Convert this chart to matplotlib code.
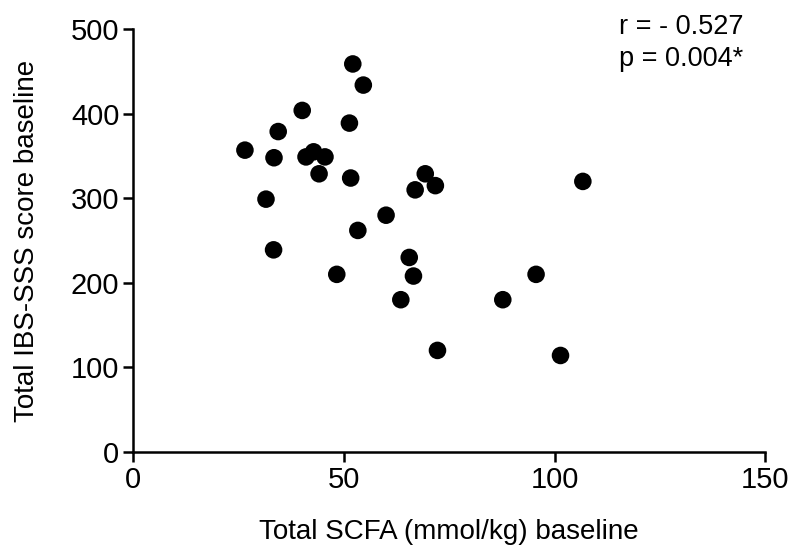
import matplotlib.pyplot as plt

plt.rcParams['font.family'] = ['Liberation Sans', 'DejaVu Sans']

scfa = [26.5, 34.4, 33.4, 31.5, 33.3, 40.1, 41.0, 42.8, 45.5, 44.1,
        48.3, 52.1, 54.6, 51.3, 51.6, 53.3, 60.0, 63.5, 65.5, 66.5,
        66.9, 69.3, 71.7, 72.2, 87.7, 95.6, 101.4, 106.7]
ibs = [357, 379, 348, 299, 239, 404, 349, 355, 349, 329,
       210, 459, 434, 389, 324, 262, 280, 180, 230, 208,
       310, 329, 315, 120, 180, 210, 114, 320]

fig = plt.figure(figsize=(7.98, 5.53), dpi=100)
ax = fig.add_axes([0.167, 0.183, 0.792, 0.764])

ax.scatter(scfa, ibs, s=160, color='black', edgecolors='none', clip_on=False, zorder=3)

ax.set_xlim(0, 150)
ax.set_ylim(0, 500)
ax.set_xticks([0, 50, 100, 150])
ax.set_yticks([0, 100, 200, 300, 400, 500])

for side in ['top', 'right']:
    ax.spines[side].set_visible(False)
for side in ['left', 'bottom']:
    ax.spines[side].set_linewidth(1.8)

ax.tick_params(axis='both', direction='out', length=7, width=1.8,
               labelsize=21, pad=3)

ax.set_xlabel('Total SCFA (mmol/kg) baseline', fontsize=20, labelpad=18)
ax.set_ylabel('Total IBS-SSS score baseline', fontsize=20, labelpad=22)

fig.text(0.776, 0.975, 'r = - 0.527\np = 0.004*', fontsize=19.5,
         va='top', ha='left', linespacing=1.3)

fig.savefig('out.png', dpi=100)
